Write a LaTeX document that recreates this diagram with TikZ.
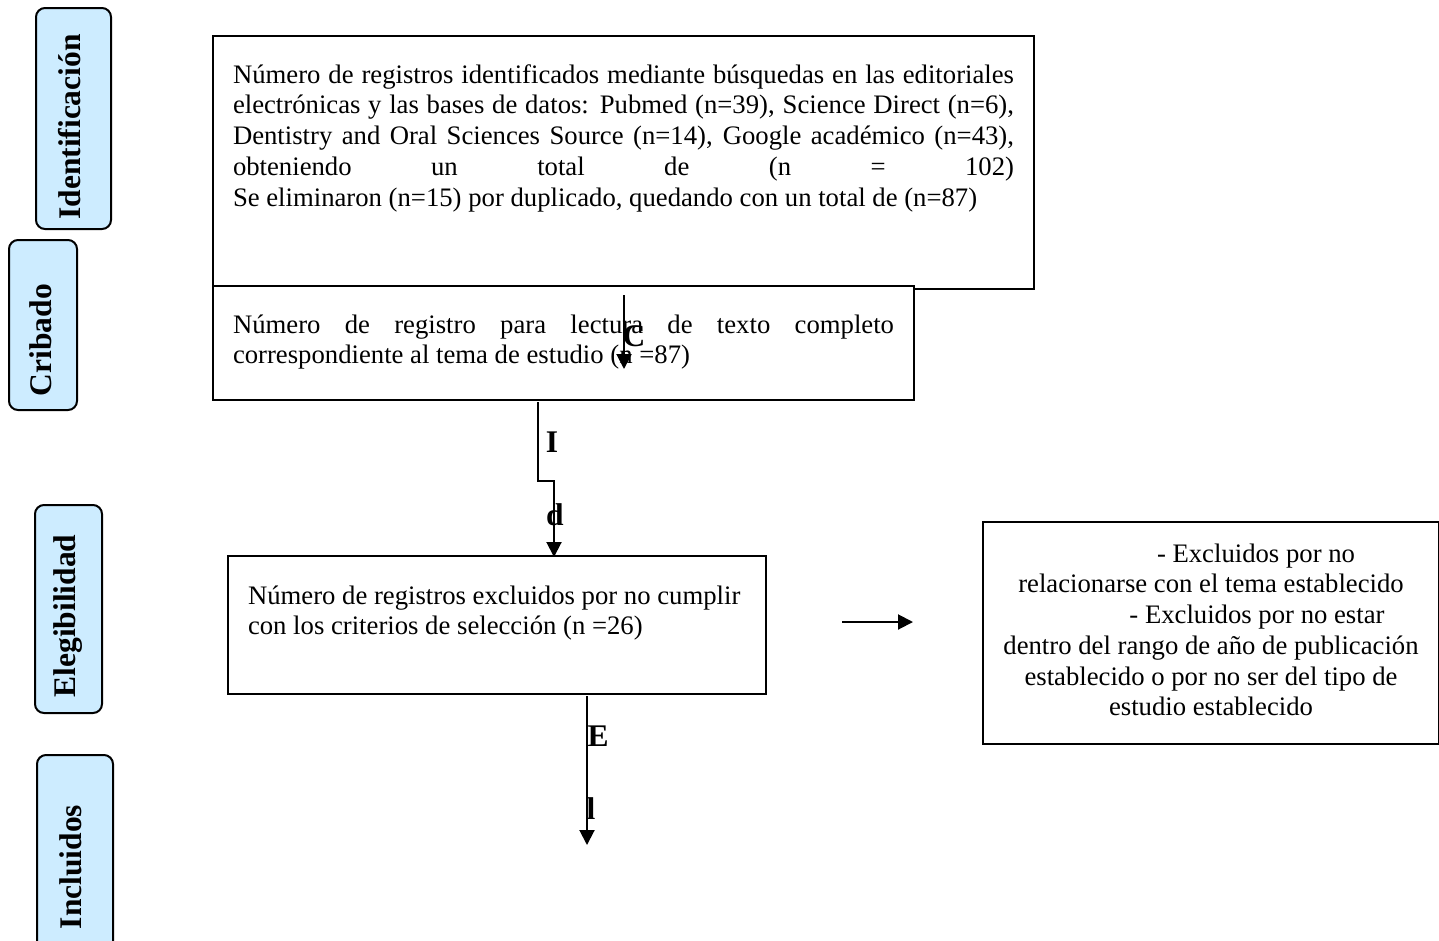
\documentclass[tikz,border=0pt]{standalone}
\usepackage{fontspec}
\setmainfont{Liberation Serif}
\usetikzlibrary{arrows.meta}
\definecolor{sideblue}{RGB}{205,236,255}
\newcommand{\mybodyfont}{\fontsize{26.7}{30.75}\selectfont}
\newcommand{\mysidefont}{\fontsize{31.5}{36}\selectfont\bfseries}
\begin{document}
\begin{tikzpicture}[x=1pt,y=-1pt,
  mainbox/.style={draw, line width=2pt, rectangle, inner ysep=0pt, anchor=north west},
  sidebox/.style={draw, line width=2pt, rectangle, rounded corners=9pt, fill=sideblue, inner sep=0pt},
  sidelabel/.style={rotate=90, font=\mysidefont, inner sep=0pt},
  letter/.style={font=\mysidefont, inner sep=0pt},
  conn/.style={line width=2pt, -{Triangle[length=15pt,width=15pt]}}]
\clip (0,0) rectangle (1439,940);
\fill[white] (0,0) rectangle (1439,940);
% side phase boxes
\node[sidebox, minimum width=75pt, minimum height=221pt] (sId) at (73.5,118.5) {};
\node[sidelabel] (tId) at (70,127) {Identificación};
\node[sidebox, minimum width=68pt, minimum height=170pt] (sCr) at (43,325) {};
\node[sidelabel] (tCr) at (41,340) {Cribado};
\node[sidebox, minimum width=67pt, minimum height=208pt] (sEl) at (68.5,609) {};
\node[sidelabel] (tEl) at (68,616) {Elegibilidad};
\node[sidebox, minimum width=76pt, minimum height=230pt] (sIn) at (75,870) {};
\node[sidelabel] (tIn) at (71,867) {Incluidos};
% main boxes
\node[mainbox, inner xsep=20pt] (ident) at (212,35) {\parbox[t][253pt][t]{781pt}{\mybodyfont
\rule{0pt}{47pt}\makebox[\linewidth][s]{Número de registros identificados mediante búsquedas en las editoriales}\\
\makebox[\linewidth][s]{electrónicas y las bases de datos: Pubmed (n=39), Science Direct (n=6),}\\
\makebox[\linewidth][s]{Dentistry and Oral Sciences Source (n=14), Google académico (n=43),}\\
\makebox[\linewidth][s]{obteniendo un total de (n = 102)}\\
Se eliminaron (n=15) por duplicado, quedando con un total de (n=87)}};
\node[mainbox, fill=white, inner xsep=20pt] (crib) at (212,285) {\parbox[t][114pt][t]{661pt}{\mybodyfont
\rule{0pt}{47pt}\makebox[\linewidth][s]{Número de registro para lectura de texto completo}\\
correspondiente al tema de estudio (n =87)}};
\node[mainbox, inner xsep=20pt] (eleg) at (227,555) {\parbox[t][138pt][t]{498pt}{\mybodyfont\raggedright
\rule{0pt}{48pt}Número de registros excluidos por no cumplir\\
con los criterios de selección (n =26)}};
\node[mainbox, inner xsep=10pt] (excl) at (982,521) {\parbox[t][222pt][t]{436pt}{\mybodyfont\centering
\rule{0pt}{40pt}\hspace*{90pt}- Excluidos por no\\
relacionarse con el tema establecido\\
\hspace*{92pt}- Excluidos por no estar\\
dentro del rango de año de publicación\\
establecido o por no ser del tipo de\\
estudio establecido}};
% connectors
\coordinate (cA) at (624,295);
\coordinate (cB) at (624,369);
\draw[conn] (cA) -- (cB);
\coordinate (dA) at (538,402);
\coordinate (dB) at (538,481);
\coordinate (dC) at (554,481);
\coordinate (dD) at (554,557);
\draw[conn] (dA) -- (dB) -- (dC) -- (dD);
\coordinate (eA) at (587,696);
\coordinate (eB) at (587,845);
\draw[conn] (eA) -- (eB);
\coordinate (hA) at (842,622);
\coordinate (hB) at (913,622);
\draw[conn] (hA) -- (hB);
% letters
\node[letter] (lC) at (634,336) {C};
\node[letter] (lI) at (552,442) {I};
\node[letter] (ld) at (555,515) {d};
\node[letter] (lE) at (598,736) {E};
\node[letter] (ll) at (591,809) {l};
\end{tikzpicture}
\end{document}
